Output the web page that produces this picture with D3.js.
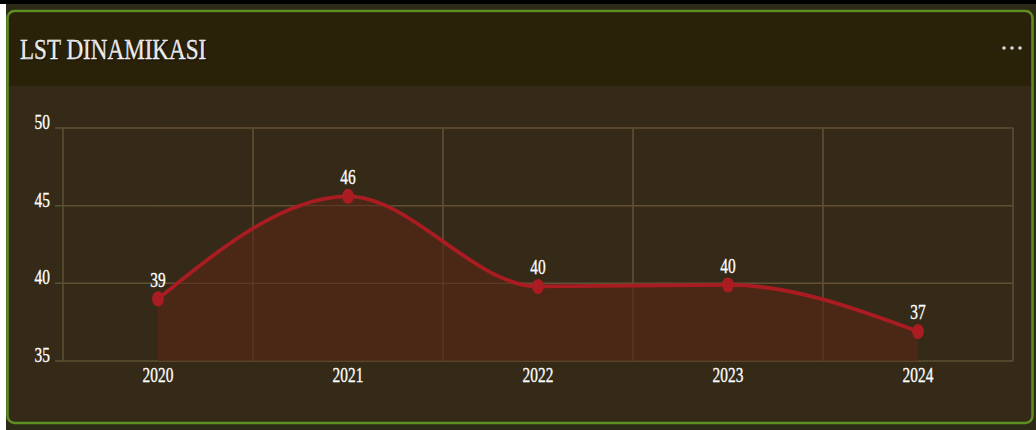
<!DOCTYPE html>
<html><head><meta charset="utf-8">
<script src="https://cdn.jsdelivr.net/npm/d3@7"></script>
<style>
html,body{margin:0;padding:0;background:#2e2a18;}
svg{display:block;}
</style></head>
<body>
<script>
const title = "LST DINAMIKASI";
const years = ["2020","2021","2022","2023","2024"];
const values = [39.0, 45.6, 39.8, 39.9, 36.9];
const yTicks = [35, 40, 45, 50];

const W = 1036, H = 430;
const svg = d3.select("body").append("svg").attr("width", W).attr("height", H);
const font = "'Liberation Serif', 'Times New Roman', serif";

function txt(g, x, y, s, size, anchor, sx) {
  const t = g.append("g").attr("transform", `translate(${x},${y}) scale(${sx || 0.7},1)`)
    .append("text").attr("x", 0).attr("y", 0).text(s)
    .attr("font-family", font).attr("font-size", size)
    .attr("fill", "#ffffff").attr("stroke", "#ffffff").attr("stroke-width", 0.35)
    .attr("text-anchor", anchor || "start");
  return t;
}

// page surroundings
svg.append("rect").attr("x",0).attr("y",0).attr("width",W).attr("height",H).attr("fill","#2e2a18");
svg.append("rect").attr("x",0).attr("y",0).attr("width",W).attr("height",4).attr("fill","#000");
svg.append("rect").attr("x",0).attr("y",4).attr("width",6).attr("height",H-4).attr("fill","#fff");

// card
const cx0 = 7.5, cy0 = 11, cw = 1025, ch = 412;
svg.append("rect").attr("x",cx0).attr("y",cy0).attr("width",cw).attr("height",ch).attr("rx",7)
  .attr("fill","#342a17").attr("stroke","#5e8f22").attr("stroke-width",2.5);
svg.append("path").attr("d", `M${cx0+1.5},86 V${cy0+8} Q${cx0+1.5},${cy0+1.5} ${cx0+8},${cy0+1.5} H${cx0+cw-8} Q${cx0+cw-1.5},${cy0+1.5} ${cx0+cw-1.5},${cy0+8} V86 Z`)
  .attr("fill","#2a2208");

// title
txt(svg, 20, 59, title, 30, "start", 0.77).attr("style","text-shadow:1px 1px 1px rgba(0,0,0,0.7)");
// menu dots
[1004, 1012, 1020].forEach(x => svg.append("circle").attr("cx",x).attr("cy",48).attr("r",1.8).attr("fill","#d8d8d8"));

// plot
const pLeft = 63, pRight = 1013, pTop = 128, pBottom = 361;
const x = d3.scaleBand().domain(years).range([pLeft, pRight]).padding(0);
const y = d3.scaleLinear().domain([35, 50]).range([pBottom, pTop]);
const xc = d => x(d) + x.bandwidth()/2;

const grid = svg.append("g").attr("stroke", "#5b5236").attr("stroke-width", 1.5);
yTicks.forEach(t => grid.append("line").attr("x1", 55).attr("x2", pRight).attr("y1", y(t)).attr("y2", y(t)));
years.forEach(yr => grid.append("line").attr("x1", x(yr)).attr("x2", x(yr)).attr("y1", pTop).attr("y2", pBottom));
grid.append("line").attr("x1", pRight).attr("x2", pRight).attr("y1", pTop).attr("y2", pBottom);

const pts = years.map((yr, i) => [xc(yr), y(values[i])]);
const area = d3.area().x(d => d[0]).y0(pBottom).y1(d => d[1]).curve(d3.curveMonotoneX);
const line = d3.line().x(d => d[0]).y(d => d[1]).curve(d3.curveMonotoneX);
svg.append("path").attr("d", area(pts)).attr("fill", "#4b2716");
const grid2 = svg.append("g").attr("stroke", "#6a4a30").attr("stroke-width", 1.2).attr("opacity",0.6);
yTicks.forEach(t => grid2.append("line").attr("x1", xc(years[0])).attr("x2", xc(years[years.length-1])).attr("y1", y(t)).attr("y2", y(t)));
years.slice(1).forEach(yr => grid2.append("line").attr("x1", x(yr)).attr("x2", x(yr)).attr("y1", pTop).attr("y2", pBottom));

svg.append("path").attr("d", line(pts)).attr("fill", "none").attr("stroke", "#a81c22").attr("stroke-width", 3.8);
pts.forEach(p => svg.append("ellipse").attr("cx", p[0]).attr("cy", p[1]).attr("rx", 6).attr("ry", 7.5).attr("fill", "#a81c22"));

// labels
values.forEach((v, i) => txt(svg, pts[i][0], pts[i][1] - 12, String(Math.round(v)), 22, "middle"));
years.forEach(yr => txt(svg, xc(yr), 382, yr, 22, "middle"));
yTicks.forEach(t => txt(svg, 50, y(t) + 1, String(t), 22, "end"));
</script>
</body></html>
